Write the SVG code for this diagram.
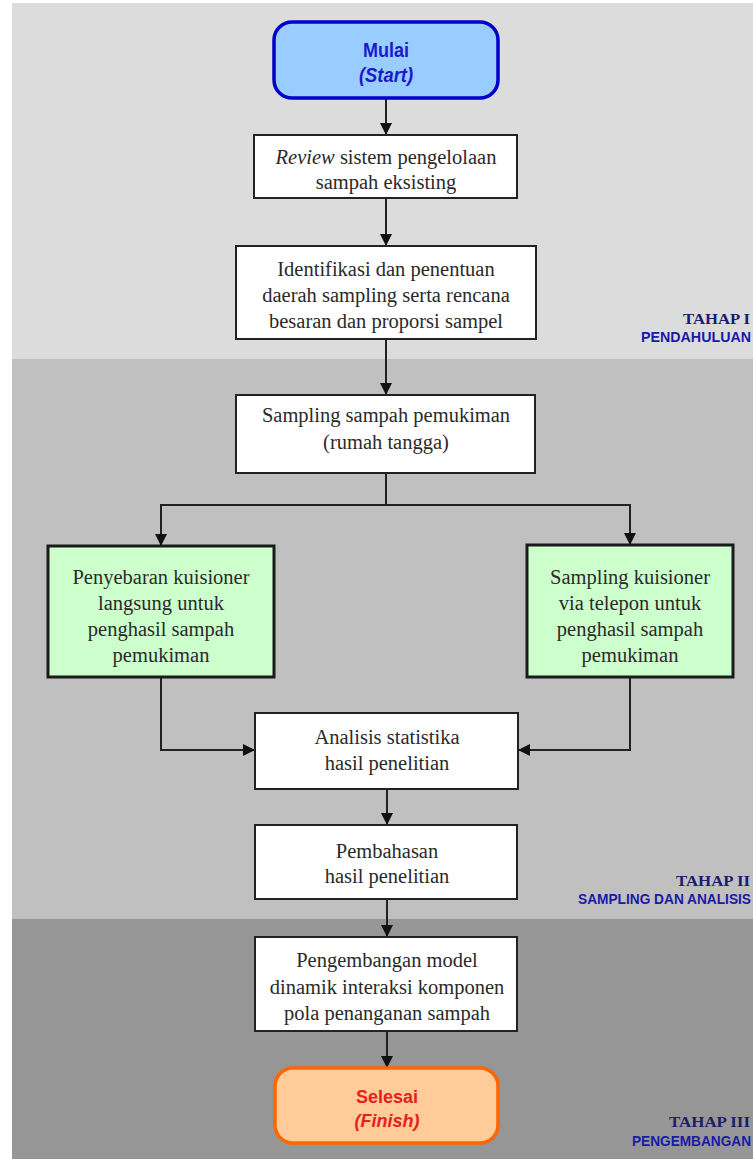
<svg xmlns="http://www.w3.org/2000/svg" width="753" height="1159" viewBox="0 0 753 1159">
<defs>
<marker id="ah" markerWidth="12" markerHeight="12" refX="11" refY="6" orient="auto" markerUnits="userSpaceOnUse">
<path d="M0,0 L12,6 L0,12 Z" fill="#111"/>
</marker>
<style>
.box{fill:#fff;stroke:#222;stroke-width:2}
.green{fill:#ccffcc;stroke:#1a1a1a;stroke-width:3}
.t{font-family:"Liberation Serif","Times New Roman",serif;font-size:20.5px;fill:#2a2a2a;text-anchor:middle}
.conn{fill:none;stroke:#222;stroke-width:2}
.tah{font-family:"Liberation Serif","Times New Roman",serif;font-weight:bold;font-size:15px;fill:#1c1c6e;text-anchor:end}
.sub{font-family:"Liberation Sans",Arial,sans-serif;font-weight:bold;font-size:14px;fill:#1a1aa8;text-anchor:end}
</style>
</defs>
<rect width="753" height="1159" fill="#fff"/>
<g id="bands">
<rect x="12" y="3" width="741" height="356" fill="#dcdcdc"/>
<rect x="12" y="359" width="741" height="560" fill="#c0c0c0"/>
<rect x="12" y="919" width="741" height="240" fill="#969696"/>
</g>
<g id="labels">
<text class="tah" x="750" y="324" textLength="67" lengthAdjust="spacingAndGlyphs">TAHAP I</text>
<text class="sub" x="751" y="342" textLength="110" lengthAdjust="spacingAndGlyphs">PENDAHULUAN</text>
<text class="tah" x="750" y="886" textLength="74" lengthAdjust="spacingAndGlyphs">TAHAP II</text>
<text class="sub" x="751" y="904" textLength="173" lengthAdjust="spacingAndGlyphs">SAMPLING DAN ANALISIS</text>
<text class="tah" x="750" y="1127" textLength="81" lengthAdjust="spacingAndGlyphs">TAHAP III</text>
<text class="sub" x="751" y="1146" textLength="119" lengthAdjust="spacingAndGlyphs">PENGEMBANGAN</text>
</g>
<g id="connectors">
<line class="conn" x1="386" y1="98" x2="386" y2="134" marker-end="url(#ah)"/>
<line class="conn" x1="386" y1="198" x2="386" y2="245" marker-end="url(#ah)"/>
<line class="conn" x1="386" y1="339" x2="386" y2="394" marker-end="url(#ah)"/>
<polyline class="conn" points="386,473 386,505 161,505 161,545" marker-end="url(#ah)"/>
<polyline class="conn" points="386,505 630,505 630,544" marker-end="url(#ah)"/>
<polyline class="conn" points="161,677 161,750 254,750" marker-end="url(#ah)"/>
<polyline class="conn" points="630,677 630,750 519,750" marker-end="url(#ah)"/>
<line class="conn" x1="387" y1="789" x2="387" y2="824" marker-end="url(#ah)"/>
<line class="conn" x1="387" y1="899" x2="387" y2="936" marker-end="url(#ah)"/>
<line class="conn" x1="387" y1="1031" x2="387" y2="1067" marker-end="url(#ah)"/>
</g>
<g id="start">
<rect x="274" y="22" width="224" height="76" rx="18" fill="#99ccff" stroke="#0000cc" stroke-width="3.5"/>
<text x="386" y="57" font-family="'Liberation Sans',Arial,sans-serif" font-weight="bold" font-size="20" fill="#1a1acc" text-anchor="middle" textLength="46" lengthAdjust="spacingAndGlyphs">Mulai</text>
<text x="386" y="82" font-family="'Liberation Sans',Arial,sans-serif" font-weight="bold" font-style="italic" font-size="20" fill="#1a1acc" text-anchor="middle" textLength="54" lengthAdjust="spacingAndGlyphs">(Start)</text>
</g>
<g id="review">
<rect class="box" x="254" y="135" width="263" height="63"/>
<text class="t" x="386" y="164"><tspan font-style="italic">Review</tspan> sistem pengelolaan</text>
<text class="t" x="386" y="189">sampah eksisting</text>
</g>
<g id="identifikasi">
<rect class="box" x="236" y="246" width="300" height="93"/>
<text class="t" x="386" y="276">Identifikasi dan penentuan</text>
<text class="t" x="386" y="302">daerah sampling serta rencana</text>
<text class="t" x="386" y="328">besaran dan proporsi sampel</text>
</g>
<g id="sampling">
<rect class="box" x="236" y="395" width="299" height="78"/>
<text class="t" x="386" y="422">Sampling sampah pemukiman</text>
<text class="t" x="386" y="449">(rumah tangga)</text>
</g>
<g id="penyebaran">
<rect class="green" x="48" y="546" width="226" height="131"/>
<text class="t" x="161" y="584">Penyebaran kuisioner</text>
<text class="t" x="161" y="610">langsung untuk</text>
<text class="t" x="161" y="636">penghasil sampah</text>
<text class="t" x="161" y="662">pemukiman</text>
</g>
<g id="telepon">
<rect class="green" x="527" y="545" width="206" height="132"/>
<text class="t" x="630" y="584">Sampling kuisioner</text>
<text class="t" x="630" y="610">via telepon untuk</text>
<text class="t" x="630" y="636">penghasil sampah</text>
<text class="t" x="630" y="662">pemukiman</text>
</g>
<g id="analisis">
<rect class="box" x="255" y="713" width="263" height="76"/>
<text class="t" x="387" y="744">Analisis statistika</text>
<text class="t" x="387" y="770">hasil penelitian</text>
</g>
<g id="pembahasan">
<rect class="box" x="255" y="825" width="262" height="74"/>
<text class="t" x="387" y="858">Pembahasan</text>
<text class="t" x="387" y="883">hasil penelitian</text>
</g>
<g id="pengembangan">
<rect class="box" x="255" y="937" width="262" height="94"/>
<text class="t" x="387" y="967">Pengembangan model</text>
<text class="t" x="387" y="994">dinamik interaksi komponen</text>
<text class="t" x="387" y="1020">pola penanganan sampah</text>
</g>
<g id="finish">
<rect x="275" y="1068" width="223" height="75" rx="18" fill="#ffcc99" stroke="#ff6600" stroke-width="3.5"/>
<text x="387" y="1103" font-family="'Liberation Sans',Arial,sans-serif" font-weight="bold" font-size="18" fill="#e8201c" text-anchor="middle">Selesai</text>
<text x="387" y="1127" font-family="'Liberation Sans',Arial,sans-serif" font-weight="bold" font-style="italic" font-size="18" fill="#e8201c" text-anchor="middle">(Finish)</text>
</g>
</svg>
